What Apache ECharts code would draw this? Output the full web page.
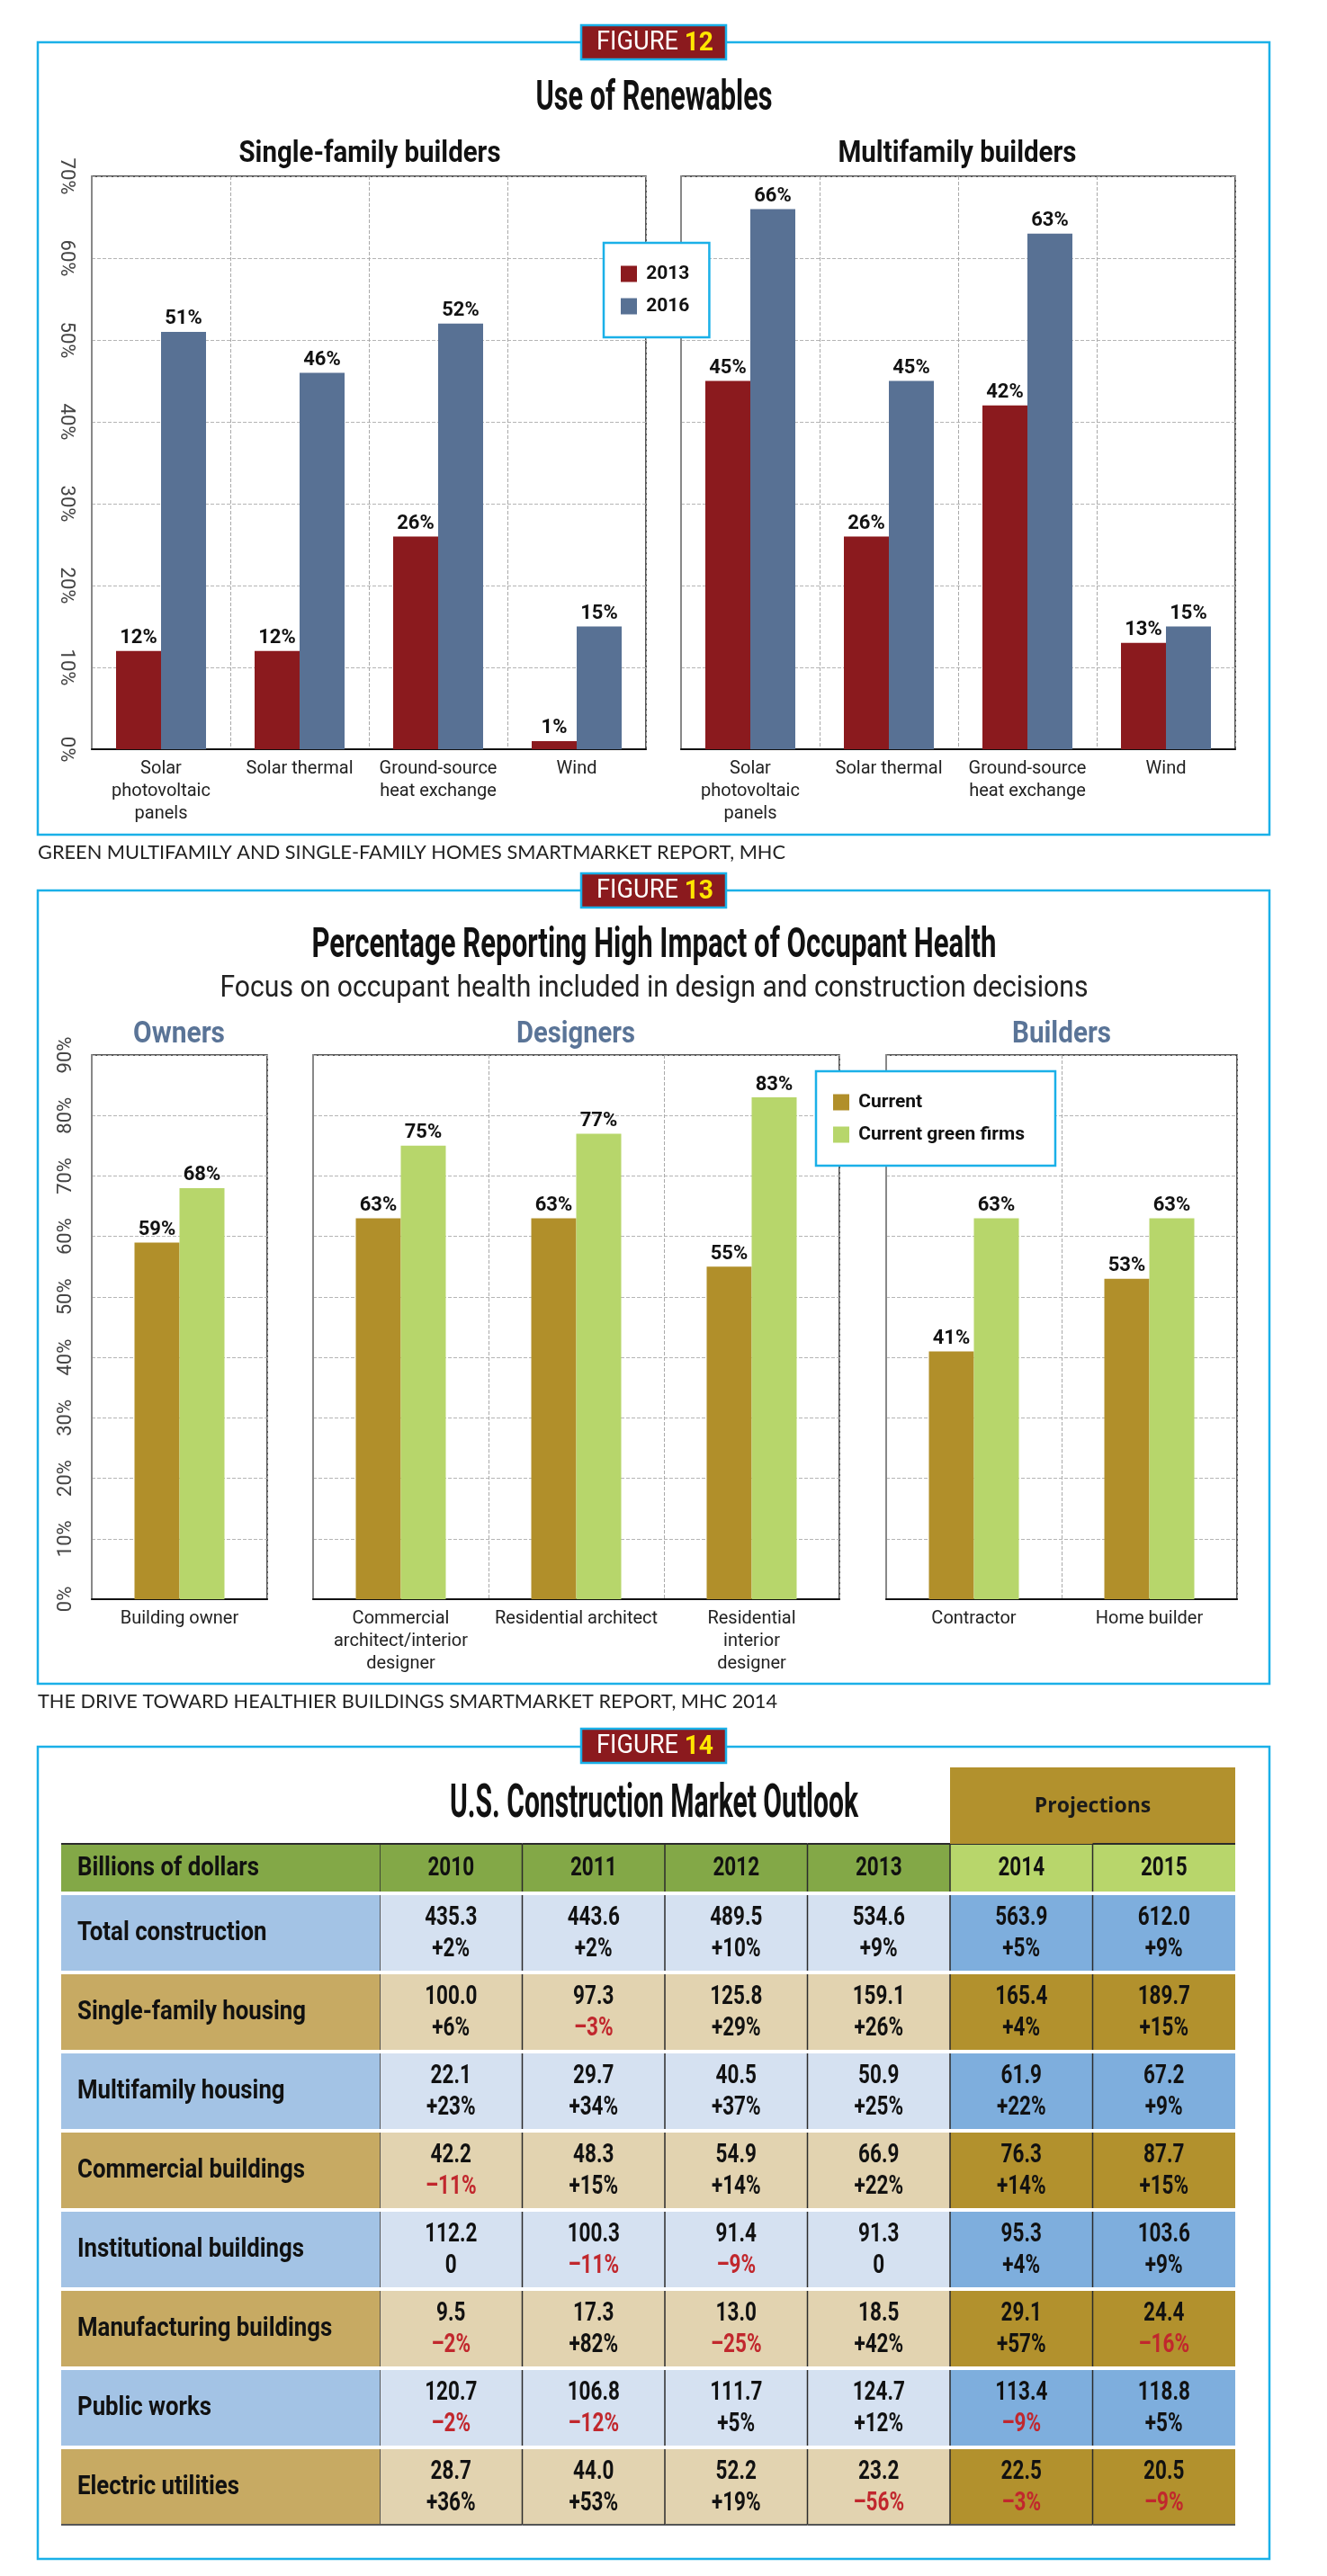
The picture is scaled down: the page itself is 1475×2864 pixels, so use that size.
<!DOCTYPE html>
<html>
<head>
<meta charset="utf-8">
<title>Renewables, occupant health, construction outlook</title>
<script src="https://cdn.jsdelivr.net/npm/echarts@6/dist/echarts.min.js"></script>
<style>
  html, body { margin: 0; padding: 0; background: #fff; }
  #main { width: 1475px; height: 2864px; }
</style>
</head>
<body>
<div id="main"></div>
<script>
// figure 12 - use of renewables
const renewCategories = ['Solar\nphotovoltaic\npanels', 'Solar thermal', 'Ground-source\nheat exchange', 'Wind'];
const singleFamily2013 = [12, 12, 26, 1];
const singleFamily2016 = [51, 46, 52, 15];
const multifamily2013 = [45, 26, 42, 13];
const multifamily2016 = [66, 45, 63, 15];

// figure 13 - occupant health
const ownerCategories = ['Building owner'];
const designerCategories = ['Commercial\narchitect/interior\ndesigner', 'Residential architect', 'Residential\ninterior\ndesigner'];
const builderCategories = ['Contractor', 'Home builder'];
const ownersCurrent = [59];
const ownersGreen = [68];
const designersCurrent = [63, 63, 55];
const designersGreen = [75, 77, 83];
const buildersCurrent = [41, 53];
const buildersGreen = [63, 63];

// figure 14 - market outlook table (billions of dollars, % change)
const tableYears = ['2010', '2011', '2012', '2013', '2014', '2015'];
const projectionStart = 4;
const tableRows = ['Total construction', 'Single-family housing', 'Multifamily housing', 'Commercial buildings',
  'Institutional buildings', 'Manufacturing buildings', 'Public works', 'Electric utilities'];
const tableValues = [
  [435.3, 443.6, 489.5, 534.6, 563.9, 612.0],
  [100.0, 97.3, 125.8, 159.1, 165.4, 189.7],
  [22.1, 29.7, 40.5, 50.9, 61.9, 67.2],
  [42.2, 48.3, 54.9, 66.9, 76.3, 87.7],
  [112.2, 100.3, 91.4, 91.3, 95.3, 103.6],
  [9.5, 17.3, 13.0, 18.5, 29.1, 24.4],
  [120.7, 106.8, 111.7, 124.7, 113.4, 118.8],
  [28.7, 44.0, 52.2, 23.2, 22.5, 20.5]
];
const tableChanges = [
  [2, 2, 10, 9, 5, 9],
  [6, -3, 29, 26, 4, 15],
  [23, 34, 37, 25, 22, 9],
  [-11, 15, 14, 22, 14, 15],
  [0, -11, -9, 0, 4, 9],
  [-2, 82, -25, 42, 57, -16],
  [-2, -12, 5, 12, -9, 5],
  [36, 53, 19, -56, -3, -9]
];

const FONT = "Roboto,'Noto Sans',sans-serif";
const CYAN = '#1ab0e8';
const RED = '#8b1a1e';
const BLUE = '#587194';
const GOLD = '#b18f2a';
const LIME = '#b7d66b';
// fake a condensed face in the table
const NUM_SQUEEZE = 0.75;
const LABEL_SQUEEZE = 0.86;

const chart = echarts.init(document.getElementById('main'));

const measureCtx = document.createElement('canvas').getContext('2d');
function textWidth(text, font) {
  measureCtx.font = font;
  return measureCtx.measureText(text).width;
}

// text squeezed horizontally to a given width
function fitText(text, x, y, font, width, fill, align) {
  return {
    type: 'text', z: 10, x: x, y: y, scaleX: width / textWidth(text, font),
    style: { text: text, x: 0, y: 0, textAlign: align || 'center', textVerticalAlign: 'middle', font: font, fill: fill || '#111' }
  };
}

function squeezed(text, x, y, squeeze, fill, align) {
  return {
    type: 'text', x: x, y: y, scaleX: squeeze,
    style: { text: text, x: 0, y: 0, textAlign: align || 'center', textVerticalAlign: 'middle', font: 'bold 30px ' + FONT, fill: fill || '#111' }
  };
}

const tableCells = [];
tableValues.forEach((row, r) => {
  row.forEach((v, c) => tableCells.push([c, r, v, tableChanges[r][c]]));
});

function fmtChange(v) {
  if (v === 0) return '0';
  return v > 0 ? '+' + v + '%' : '\u2013' + Math.abs(v) + '%';
}

const labelColW = 354;

function renderHeader(params, api) {
  const c = api.value(0);
  const pt = api.coord([c, 0]);
  const size = api.size([1, 1]);
  const w = size[0], h = size[1];
  const x0 = pt[0] - w / 2, y0 = pt[1] - h / 2;
  const kids = [
    { type: 'rect', shape: { x: x0, y: y0, width: w, height: h }, style: { fill: c >= projectionStart ? '#b8d66b' : '#83a847' } },
    { type: 'line', shape: { x1: x0, y1: y0, x2: x0, y2: y0 + h }, style: { stroke: '#2b2b2b', lineWidth: 1.5 } },
    { type: 'line', shape: { x1: x0, y1: y0, x2: x0 + w, y2: y0 }, style: { stroke: '#2b2b2b', lineWidth: 2 } },
    squeezed(tableYears[c], pt[0], pt[1] + 1, NUM_SQUEEZE)
  ];
  if (c === 0) {
    kids.push({ type: 'rect', shape: { x: x0 - labelColW, y: y0, width: labelColW, height: h }, style: { fill: '#83a847' } });
    kids.push({ type: 'line', shape: { x1: x0 - labelColW, y1: y0, x2: x0, y2: y0 }, style: { stroke: '#2b2b2b', lineWidth: 2 } });
    kids.push(squeezed('Billions of dollars', x0 - labelColW + 18, pt[1] + 1, LABEL_SQUEEZE, '#111', 'left'));
  }
  if (c === projectionStart) {
    const pw = w * (tableYears.length - projectionStart);
    kids.push({ type: 'rect', shape: { x: x0, y: y0 - 85, width: pw, height: 85 }, style: { fill: '#b2912d' } });
    kids.push({ type: 'text', style: { text: 'Projections', x: x0 + pw / 2, y: y0 - 42, textAlign: 'center',
      textVerticalAlign: 'middle', font: "bold 23px 'Open Sans','Noto Sans',sans-serif", fill: '#1a1a1a' } });
  }
  return { type: 'group', children: kids };
}

function renderBody(params, api) {
  const c = api.value(0), r = api.value(1);
  const val = api.value(2), ch = api.value(3);
  const pt = api.coord([c, r]);
  const size = api.size([1, 1]);
  const w = size[0], h = size[1];
  const gap = 4;
  const x0 = pt[0] - w / 2, y0 = pt[1] - h / 2 + gap;
  const hh = h - gap;
  const cy = y0 + hh / 2;
  const blueRow = r % 2 === 0;
  const proj = c >= projectionStart;
  const fill = blueRow ? (proj ? '#7eaedd' : '#d5e1f1') : (proj ? '#b2912d' : '#e2d3b0');
  const kids = [
    { type: 'rect', shape: { x: x0, y: y0, width: w, height: hh }, style: { fill: fill } },
    { type: 'line', shape: { x1: x0, y1: y0, x2: x0, y2: y0 + hh }, style: { stroke: '#2b2b2b', lineWidth: 1.5 } },
    squeezed(val.toFixed(1), pt[0], cy - 17, NUM_SQUEEZE),
    squeezed(fmtChange(ch), pt[0], cy + 18, NUM_SQUEEZE, ch < 0 ? '#c1272d' : '#111')
  ];
  if (r === tableRows.length - 1) {
    kids.push({ type: 'line', shape: { x1: x0, y1: y0 + hh, x2: x0 + w, y2: y0 + hh }, style: { stroke: '#555', lineWidth: 2 } });
  }
  if (c === 0) {
    kids.push({ type: 'rect', shape: { x: x0 - labelColW, y: y0, width: labelColW, height: hh },
      style: { fill: blueRow ? '#a3c3e5' : '#c7aa63' } });
    kids.push(squeezed(tableRows[r], x0 - labelColW + 18, cy, LABEL_SQUEEZE, '#111', 'left'));
    if (r === tableRows.length - 1) {
      kids.push({ type: 'line', shape: { x1: x0 - labelColW, y1: y0 + hh, x2: x0, y2: y0 + hh }, style: { stroke: '#555', lineWidth: 2 } });
    }
  }
  return { type: 'group', children: kids };
}

function catAxis(gridIndex, data) {
  return {
    type: 'category', gridIndex: gridIndex, data: data,
    axisLine: { lineStyle: { color: '#111', width: 2 } },
    axisTick: { show: false },
    axisLabel: { interval: 0, margin: 9, fontFamily: FONT, fontSize: 20, lineHeight: 25, color: '#222' },
    splitLine: { show: true, interval: 0, lineStyle: { type: 'dashed', color: '#aaa' } }
  };
}

function valAxis(gridIndex, max, showLabel, rotate) {
  return {
    type: 'value', gridIndex: gridIndex, min: 0, max: max, interval: 10,
    axisLine: { show: true, lineStyle: { color: '#888', width: 2 } },
    axisTick: { show: false },
    axisLabel: { show: showLabel, rotate: rotate, formatter: '{value}%', margin: 18, fontFamily: FONT, fontSize: 22, color: '#444' },
    splitLine: { lineStyle: { type: 'dashed', color: '#b5b5b5' } }
  };
}

function barSeries(name, color, axisIdx, data) {
  return {
    name: name, type: 'bar', xAxisIndex: axisIdx, yAxisIndex: axisIdx, data: data,
    barWidth: 50, barGap: '0%',
    itemStyle: { color: color },
    label: { show: true, position: 'top', distance: 3, formatter: '{c}%', fontFamily: FONT, fontWeight: 'bold', fontSize: 22, color: '#111' }
  };
}

function figureTag(num, y) {
  const fa = '29px ' + FONT, fb = 'bold 30px ' + FONT;
  const natural = textWidth('FIGURE ', fa) + textWidth(String(num), fb);
  return [
    { type: 'rect', z: 10, shape: { x: 646, y: y, width: 161, height: 38 }, style: { fill: RED, stroke: CYAN, lineWidth: 2.5 } },
    { type: 'text', z: 11, x: 728, y: y + 20, scaleX: 130 / natural,
      style: { text: '{a|FIGURE }{b|' + num + '}', x: 0, y: 0, textAlign: 'center', textVerticalAlign: 'middle',
        rich: { a: { font: fa, fill: '#fff' }, b: { font: fb, fill: '#ffe600' } } } }
  ];
}

function frame(y, h) {
  return { type: 'rect', z: 1, shape: { x: 42, y: y, width: 1369, height: h }, style: { fill: 'none', stroke: CYAN, lineWidth: 2.5 } };
}

const SRC = "21px Lato,'Noto Sans',sans-serif";
const graphics = [
  frame(47, 881), frame(990, 882), frame(1942, 903),
  ...figureTag(12, 28), ...figureTag(13, 971), ...figureTag(14, 1922),
  fitText('Use of Renewables', 727, 110, 'bold 46px ' + FONT, 263),
  fitText('Single-family builders', 411, 172, 'bold 33px ' + FONT, 291),
  fitText('Multifamily builders', 1064, 172, 'bold 33px ' + FONT, 265),
  fitText('GREEN MULTIFAMILY AND SINGLE-FAMILY HOMES SMARTMARKET REPORT, MHC', 42, 948, SRC, 831, '#222', 'left'),
  fitText('Percentage Reporting High Impact of Occupant Health', 727, 1052, 'bold 46px ' + FONT, 761),
  fitText('Focus on occupant health included in design and construction decisions', 727, 1099, '34px ' + FONT, 965, '#222'),
  fitText('Owners', 199, 1150, 'bold 34px ' + FONT, 102, '#5a7497'),
  fitText('Designers', 640, 1150, 'bold 34px ' + FONT, 132, '#5a7497'),
  fitText('Builders', 1180, 1150, 'bold 34px ' + FONT, 110, '#5a7497'),
  fitText('THE DRIVE TOWARD HEALTHIER BUILDINGS SMARTMARKET REPORT, MHC 2014', 42, 1892, SRC, 822, '#222', 'left'),
  fitText('U.S. Construction Market Outlook', 727, 2007, 'bold 52px ' + FONT, 454)
];

const legendBase = {
  orient: 'vertical', icon: 'rect', itemWidth: 18, itemHeight: 18, itemGap: 15,
  backgroundColor: '#fff', borderColor: CYAN, borderWidth: 2.5, formatter: ' {name}',
  textStyle: { fontFamily: FONT, fontWeight: 'bold', fontSize: 21, color: '#111' }
};

chart.setOption({
  animation: false,
  backgroundColor: '#fff',
  graphic: graphics,
  legend: [
    Object.assign({}, legendBase, { data: ['2013', '2016'], left: 671, top: 270, padding: [24, 22, 24, 19] }),
    Object.assign({}, legendBase, { data: ['Current', 'Current green firms'], left: 907, top: 1191, padding: [24, 34, 24, 19] })
  ],
  grid: [
    { left: 102, top: 196, width: 616, height: 637, show: true, borderColor: '#222', borderWidth: 1.5 },
    { left: 757, top: 196, width: 616, height: 637, show: true, borderColor: '#222', borderWidth: 1.5 },
    { left: 102, top: 1173, width: 195, height: 605, show: true, borderColor: '#222', borderWidth: 1.5 },
    { left: 348, top: 1173, width: 585, height: 605, show: true, borderColor: '#222', borderWidth: 1.5 },
    { left: 985, top: 1173, width: 390, height: 605, show: true, borderColor: '#222', borderWidth: 1.5 },
    { left: 422, top: 2050, width: 951, height: 53 },
    { left: 422, top: 2103, width: 951, height: 704 }
  ],
  xAxis: [
    catAxis(0, renewCategories),
    catAxis(1, renewCategories),
    catAxis(2, ownerCategories),
    catAxis(3, designerCategories),
    catAxis(4, builderCategories),
    { type: 'category', gridIndex: 5, data: tableYears, show: false },
    { type: 'category', gridIndex: 6, data: tableYears, show: false }
  ],
  yAxis: [
    valAxis(0, 70, true, -90),
    valAxis(1, 70, false, 0),
    valAxis(2, 90, true, 90),
    valAxis(3, 90, false, 0),
    valAxis(4, 90, false, 0),
    { type: 'category', gridIndex: 5, data: ['header'], show: false },
    { type: 'category', gridIndex: 6, data: tableRows, inverse: true, show: false }
  ],
  series: [
    barSeries('2013', RED, 0, singleFamily2013),
    barSeries('2016', BLUE, 0, singleFamily2016),
    barSeries('2013', RED, 1, multifamily2013),
    barSeries('2016', BLUE, 1, multifamily2016),
    barSeries('Current', GOLD, 2, ownersCurrent),
    barSeries('Current green firms', LIME, 2, ownersGreen),
    barSeries('Current', GOLD, 3, designersCurrent),
    barSeries('Current green firms', LIME, 3, designersGreen),
    barSeries('Current', GOLD, 4, buildersCurrent),
    barSeries('Current green firms', LIME, 4, buildersGreen),
    {
      type: 'custom', xAxisIndex: 5, yAxisIndex: 5, renderItem: renderHeader,
      data: tableYears.map((y, i) => [i, 0]), silent: true
    },
    {
      type: 'custom', xAxisIndex: 6, yAxisIndex: 6, renderItem: renderBody,
      data: tableCells, silent: true
    }
  ]
});
</script>
</body>
</html>
